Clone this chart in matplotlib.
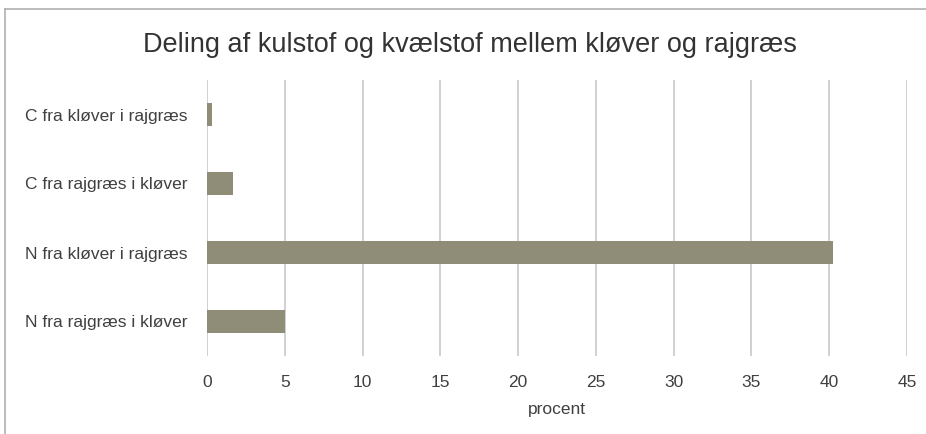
import matplotlib
matplotlib.use("Agg")
import matplotlib.pyplot as plt
from matplotlib.lines import Line2D

# data
categories = ['C fra kløver i rajgræs', 'C fra rajgræs i kløver',
              'N fra kløver i rajgræs', 'N fra rajgræs i kløver']
values = [0.3, 1.7, 40.25, 5.0]
xticks = [0, 5, 10, 15, 20, 25, 30, 35, 40, 45]

plt.rcParams['font.family'] = ['Liberation Sans', 'DejaVu Sans']
txt = '#404040'
bar_col = '#8f8d77'
grid_col = '#c4c4c4'

W, H = 926, 434
fig = plt.figure(figsize=(W/100, H/100), dpi=100)
ax = fig.add_axes([207/W, (H-356)/H, 700/W, 276/H])

ypos = list(range(len(categories)))[::-1]
ax.barh(ypos, values, height=0.33, color=bar_col, zorder=3)

ax.set_xlim(0, 45)
ax.set_ylim(-0.5, 3.5)
ax.set_xticks(xticks)
ax.set_yticks(ypos)
ax.set_yticklabels(categories, fontsize=12.5, color=txt)
ax.tick_params(axis='x', labelsize=12.5, labelcolor=txt, length=0, pad=14)
ax.tick_params(axis='y', length=0, pad=14)
ax.xaxis.grid(True, color=grid_col, linewidth=1.1, zorder=0)
for s in ax.spines.values():
    s.set_visible(False)
ax.set_xlabel('procent', fontsize=12.5, color=txt, labelpad=8)

fig.text(470/W, 1 - 45/H, 'Deling af kulstof og kvælstof mellem kløver og rajgræs',
         fontsize=19.5, color='#333333', ha='center', va='center')

# thin frame round the chart
fig.add_artist(Line2D([5/W, 5/W], [0, 1 - 9/H], color='#b0b0b0', linewidth=1.2))
fig.add_artist(Line2D([5/W, 1], [1 - 9/H, 1 - 9/H], color='#b0b0b0', linewidth=1.2))

fig.savefig('out.png', dpi=100)
